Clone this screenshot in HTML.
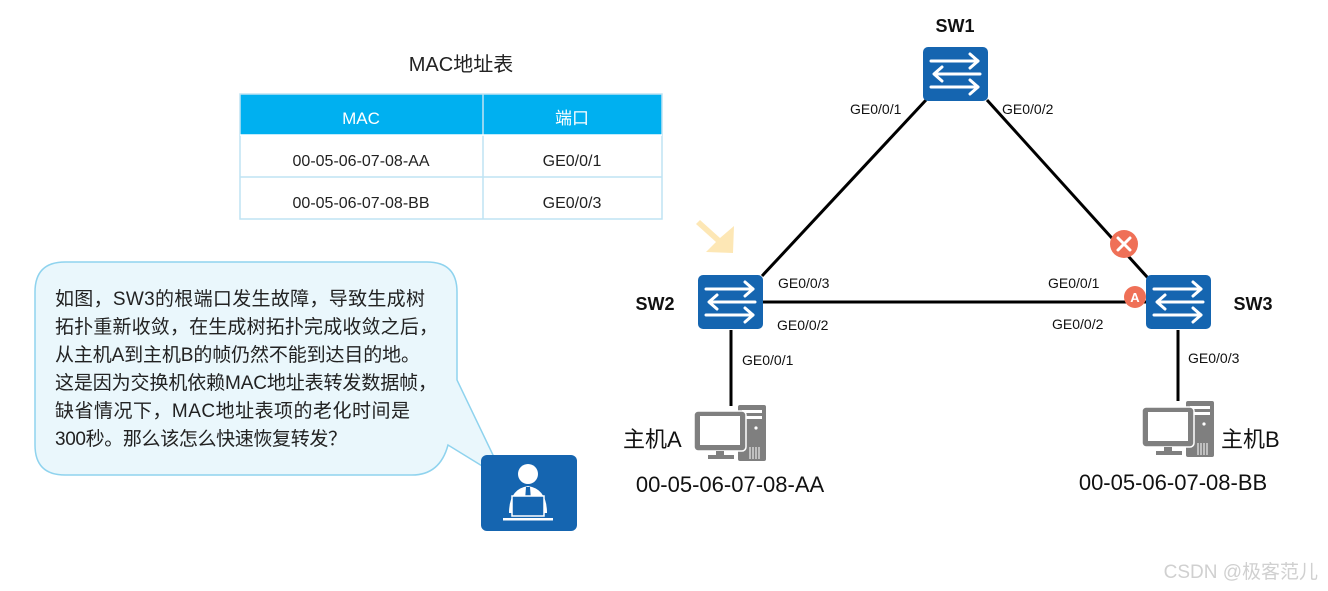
<!DOCTYPE html>
<html><head><meta charset="utf-8"><style>
html,body{margin:0;padding:0;background:#fff;}
svg{display:block;font-family:"Liberation Sans","Noto Sans CJK SC",sans-serif;}
</style></head><body>
<svg width="1328" height="591" viewBox="0 0 1328 591" xmlns="http://www.w3.org/2000/svg">
<defs>
<g id="sw">
<rect x="0" y="0" width="65" height="54" rx="5" fill="#1565b0"/>
<g stroke="#fff" stroke-width="3" fill="none" stroke-linecap="round" stroke-linejoin="round">
<line x1="8" y1="14" x2="55" y2="14"/><polyline points="47,7 55,14 47,21"/>
<line x1="12" y1="27" x2="57" y2="27"/><polyline points="19,20 11,27 19,34"/>
<line x1="8" y1="40" x2="55" y2="40"/><polyline points="47,33 55,40 47,47"/>
</g></g>
<g id="pc">
<rect x="44" y="0" width="28" height="56" rx="2" fill="#7f7f7f"/>
<rect x="48" y="5" width="20" height="3" fill="#fff"/>
<rect x="48" y="11" width="20" height="3" fill="#fff"/>
<circle cx="62" cy="23" r="1.6" fill="#fff"/>
<g stroke="#fff" stroke-width="1"><line x1="56" y1="42" x2="56" y2="54"/><line x1="59" y1="42" x2="59" y2="54"/><line x1="62" y1="42" x2="62" y2="54"/><line x1="65" y1="42" x2="65" y2="54"/></g>
<rect x="0" y="6" width="52" height="40" rx="4" fill="#7f7f7f" stroke="#fff" stroke-width="1.5"/>
<rect x="6" y="11" width="40" height="29" fill="#fff"/>
<rect x="22" y="46" width="8" height="4" fill="#7f7f7f"/>
<rect x="14" y="50" width="26" height="4" fill="#7f7f7f"/>
</g>
</defs>

<text x="461" y="71" font-size="20" text-anchor="middle" fill="#222">MAC地址表</text>
<rect x="240" y="94" width="422" height="41" fill="#00b0f0"/>
<rect x="240" y="94" width="422" height="125" fill="none" stroke="#bfe3f3" stroke-width="1.5"/>
<line x1="240" y1="177" x2="662" y2="177" stroke="#bfe3f3" stroke-width="1.5"/>
<line x1="483" y1="94" x2="483" y2="219" stroke="#bfe3f3" stroke-width="1.5"/>
<line x1="240" y1="135" x2="662" y2="135" stroke="#fff" stroke-width="1.5"/>
<text x="361" y="124" font-size="17" text-anchor="middle" fill="#fff">MAC</text>
<text x="572" y="124" font-size="17" text-anchor="middle" fill="#fff">端口</text>
<text x="361" y="166" font-size="16" text-anchor="middle" fill="#222">00-05-06-07-08-AA</text>
<text x="572" y="166" font-size="16" text-anchor="middle" fill="#222">GE0/0/1</text>
<text x="361" y="208" font-size="16" text-anchor="middle" fill="#222">00-05-06-07-08-BB</text>
<text x="572" y="208" font-size="16" text-anchor="middle" fill="#222">GE0/0/3</text>

<path d="M65,262 H427 Q457,262 457,292 V380 L505,480 L448,445 Q440,475 412,475 H65 Q35,475 35,445 V292 Q35,262 65,262 Z" fill="#eaf7fc" stroke="#8fd3ee" stroke-width="1.5"/>
<g font-size="19" fill="#222">
<text x="55" y="305" textLength="370">如图，SW3的根端口发生故障，导致生成树</text>
<text x="55" y="333" textLength="383">拓扑重新收敛，在生成树拓扑完成收敛之后，</text>
<text x="55" y="361" textLength="365">从主机A到主机B的帧仍然不能到达目的地。</text>
<text x="55" y="389" textLength="382">这是因为交换机依赖MAC地址表转发数据帧，</text>
<text x="55" y="417" textLength="355">缺省情况下，MAC地址表项的老化时间是</text>
<text x="55" y="445" textLength="292">300秒。那么该怎么快速恢复转发？</text>
</g>
<rect x="481" y="455" width="96" height="76" rx="6" fill="#1565b0"/>
<circle cx="528" cy="474" r="10" fill="#fff"/>
<path d="M509,513 Q509,489 528,486 Q547,489 547,513 Z" fill="#fff"/>
<path d="M526,487 L530,487 L531,500 L528,504 L525,500 Z" fill="#1565b0"/>
<rect x="512" y="496" width="32" height="20" fill="#1565b0" stroke="#fff" stroke-width="1.5"/>
<rect x="503" y="518" width="50" height="2.5" fill="#fff"/>

<g stroke="#000" stroke-width="3">
<line x1="926" y1="100" x2="762" y2="276"/>
<line x1="987" y1="100" x2="1148" y2="278"/>
<line x1="763" y1="302" x2="1146" y2="302"/>
<line x1="731" y1="330" x2="731" y2="406"/>
<line x1="1178" y1="330" x2="1178" y2="401"/>
</g>
<use href="#sw" x="923" y="47"/>
<use href="#sw" x="698" y="275"/>
<use href="#sw" x="1146" y="275"/>
<circle cx="1124" cy="244" r="14" fill="#ef7057"/>
<g stroke="#fff" stroke-width="3" stroke-linecap="round"><line x1="1118" y1="238" x2="1130" y2="250"/><line x1="1130" y1="238" x2="1118" y2="250"/></g>
<circle cx="1135" cy="297" r="11" fill="#ef7057"/>
<text x="1135" y="302" font-size="13" font-weight="bold" fill="#fff" text-anchor="middle">A</text>
<path d="M700,220 L720,238 L734,226 L733,253 L706,252 L716,242 L696,224 Z" fill="#fde4ad" opacity="0.9"/>

<g font-size="18" font-weight="bold" fill="#111">
<text x="955" y="32" text-anchor="middle">SW1</text>
<text x="655" y="310" text-anchor="middle">SW2</text>
<text x="1253" y="310" text-anchor="middle">SW3</text>
</g>
<g font-size="14" fill="#111">
<text x="850" y="114">GE0/0/1</text>
<text x="1002" y="114">GE0/0/2</text>
<text x="778" y="288">GE0/0/3</text>
<text x="777" y="330">GE0/0/2</text>
<text x="1048" y="288">GE0/0/1</text>
<text x="1052" y="329">GE0/0/2</text>
<text x="742" y="365">GE0/0/1</text>
<text x="1188" y="363">GE0/0/3</text>
</g>
<use href="#pc" x="694" y="405"/>
<use href="#pc" x="1142" y="401"/>
<g font-size="22" fill="#111">
<text x="623" y="447">主机A</text>
<text x="1221" y="447">主机B</text>
<text x="730" y="492" text-anchor="middle">00-05-06-07-08-AA</text>
<text x="1173" y="490" text-anchor="middle">00-05-06-07-08-BB</text>
</g>
<text x="1318" y="578" font-size="19" fill="#d0d0d0" text-anchor="end">CSDN @极客范儿</text>
</svg>
</body></html>
